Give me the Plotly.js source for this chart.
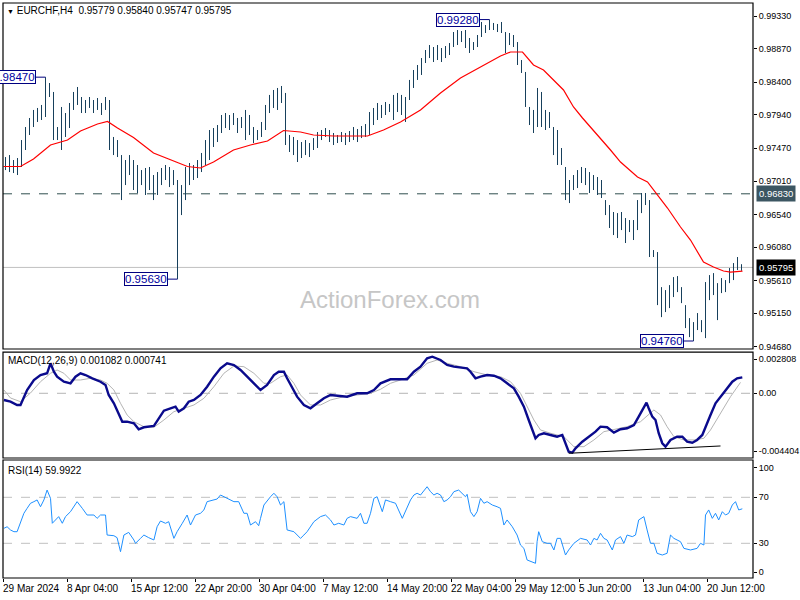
<!DOCTYPE html>
<html>
<head>
<meta charset="utf-8">
<script src="https://cdn.plot.ly/plotly-3.0.1.min.js"></script>
<style>html,body{margin:0;padding:0;background:#fff;}#chart{width:800px;height:600px;}</style>
</head>
<body>
<div id="chart"></div>
<script>
// ---- data (each bar = one plotted bar) ----
const hi = [0.97347,0.97375,0.97305,0.97333,0.97586,0.97769,0.97896,0.98009,0.98037,0.98079,
 0.98470,0.98388,0.98262,0.97769,0.98051,0.97966,0.98107,0.98262,0.98332,0.98191,
 0.98149,0.98191,0.98149,0.98177,0.98107,0.98191,0.98149,0.97629,0.97586,0.97375,
 0.97305,0.97375,0.97305,0.97235,0.97164,0.97193,0.97207,0.97094,0.97136,0.97193,
 0.97235,0.97207,0.97164,0.97024,0.96953,0.97207,0.97263,0.97235,0.97305,0.97404,
 0.97586,0.97727,0.97755,0.97797,0.97938,0.97966,0.97938,0.97966,0.97896,0.97910,
 0.98009,0.97938,0.97769,0.97727,0.97840,0.98079,0.98220,0.98290,0.98318,0.98346,
 0.98248,0.97657,0.97629,0.97586,0.97558,0.97586,0.97544,0.97614,0.97699,0.97727,
 0.97755,0.97727,0.97685,0.97657,0.97699,0.97685,0.97713,0.97769,0.97741,0.97783,
 0.97811,0.97980,0.98037,0.98107,0.98079,0.98121,0.98093,0.98220,0.98248,0.98220,
 0.98191,0.98431,0.98571,0.98641,0.98739,0.98852,0.98922,0.98894,0.98922,0.98880,
 0.98908,0.98950,0.99105,0.99133,0.99119,0.99133,0.99021,0.98964,0.99063,0.99246,
 0.99203,0.99280,0.99232,0.99218,0.99246,0.99105,0.99091,0.99063,0.98964,0.98711,
 0.98543,0.98051,0.98009,0.98318,0.98262,0.98009,0.97980,0.97769,0.97727,0.97474,
 0.97207,0.97024,0.97094,0.97164,0.97207,0.97193,0.97136,0.97094,0.97066,0.97024,
 0.96742,0.96672,0.96574,0.96559,0.96574,0.96489,0.96461,0.96461,0.96742,0.96841,
 0.96841,0.96742,0.96039,0.96011,0.95518,0.95476,0.95546,0.95659,0.95673,0.95518,
 0.95265,0.95082,0.95026,0.95153,0.95054,0.95589,0.95687,0.95715,0.95574,0.95645,
 0.95617,0.95786,0.95856,0.95941,0.95840];
const lo = [0.97164,0.97136,0.97122,0.97094,0.97207,0.97446,0.97657,0.97769,0.97840,0.97868,
 0.97910,0.98191,0.97586,0.97586,0.97446,0.97629,0.97755,0.98009,0.98079,0.97966,
 0.97966,0.98037,0.97966,0.98009,0.97938,0.98009,0.97446,0.97375,0.97347,0.96742,
 0.96953,0.97094,0.96883,0.96841,0.96953,0.96813,0.96883,0.96742,0.96813,0.96953,
 0.97024,0.96925,0.96953,0.95630,0.96531,0.96742,0.96953,0.97024,0.97052,0.97136,
 0.97235,0.97305,0.97488,0.97558,0.97685,0.97755,0.97727,0.97797,0.97685,0.97755,
 0.97586,0.97657,0.97544,0.97586,0.97629,0.97727,0.97966,0.98037,0.98009,0.98107,
 0.97516,0.97418,0.97375,0.97277,0.97333,0.97375,0.97347,0.97446,0.97474,0.97586,
 0.97629,0.97558,0.97516,0.97544,0.97558,0.97516,0.97558,0.97586,0.97558,0.97614,
 0.97629,0.97657,0.97797,0.97868,0.97896,0.97938,0.97980,0.97868,0.97980,0.97938,
 0.97840,0.98149,0.98318,0.98431,0.98501,0.98669,0.98739,0.98683,0.98711,0.98683,
 0.98739,0.98782,0.98894,0.98922,0.98964,0.98880,0.98810,0.98852,0.98894,0.99035,
 0.99091,0.99133,0.99133,0.99105,0.99091,0.98810,0.98922,0.98894,0.98641,0.98529,
 0.98051,0.97797,0.97685,0.97769,0.97769,0.97727,0.97755,0.97375,0.97235,0.97235,
 0.96742,0.96700,0.96883,0.96911,0.96982,0.96953,0.96841,0.96883,0.96813,0.96771,
 0.96531,0.96349,0.96250,0.96208,0.96320,0.96138,0.96292,0.96180,0.96320,0.96559,
 0.96672,0.95941,0.95941,0.95265,0.95096,0.95167,0.95223,0.95378,0.95448,0.95293,
 0.94942,0.94815,0.94760,0.94914,0.94885,0.94801,0.95335,0.95406,0.95054,0.95434,
 0.95448,0.95574,0.95617,0.95758,0.95747];

const maIdx = [-0.5,3.75,7,11.25,15.5,18.75,23,25.5,28,32,37,42,45.5,48.75,52,57,61.25,65.5,69.5,73.75,77,82,90.5,94.5,98.75,103.75,108.75,113.75,118.75,123.75,126.25,129.25,132,134.5,139.5,142,144.25,148.75,151.25,153.75,158,160.5,163,165.5,168.75,171.25,174.5,177,179.5,181.25,184.25];
const maVal = [0.97214,0.97214,0.97319,0.97516,0.97586,0.97713,0.97811,0.97847,0.97755,0.97622,0.97404,0.97291,0.97214,0.97193,0.97277,0.97446,0.97516,0.97572,0.97720,0.97699,0.97657,0.97643,0.97643,0.97727,0.97840,0.98009,0.98248,0.98459,0.98613,0.98768,0.98824,0.98824,0.98641,0.98571,0.98290,0.98051,0.97896,0.97614,0.97446,0.97277,0.97066,0.96996,0.96813,0.96630,0.96363,0.96180,0.95870,0.95800,0.95744,0.95729,0.95744];

const macdIdx = [-0.4,1.25,2.9,3.75,5.4,7.1,8.75,10.4,11.25,12.1,12.9,14.6,16.25,17.5,18.75,20,21.7,23.75,25,25.8,27.1,27.9,29.2,30.4,32.1,33.3,34.6,37.1,38.3,39.6,41.25,42.5,43.3,44.6,45.8,47.1,48.75,50.4,52.1,53.75,55.4,57.1,58.75,60.4,62.1,63.75,65.4,67.1,68.3,69.6,70.4,71.7,72.9,74.6,76.25,77.9,79.6,81.25,82.9,85.4,87.9,90.4,92.1,93.75,96.25,98.75,100.4,102.1,103.75,105.4,106.7,108.75,110.4,112.1,115.4,116.25,117.5,118.75,120.4,122.1,123.75,125.4,127.1,128.3,129.6,130.8,131.7,132.5,133.3,134.6,136.25,137.9,139.2,140,140.8,141.7,142.5,144.2,145.8,147.5,148.75,150.4,152.1,153.75,155.4,157.1,158.3,159.6,160.25,160.8,161.7,162.5,163.3,164.2,165,166.25,167.9,169.2,170.4,171.7,172.9,174.2,175,176.25,177.5,179.2,180.4,181.7,182.9,184.2];
const macdVal = [-0.000456,-0.000571,-0.000796,-0.000796,0.000225,0.000905,0.001245,0.001361,0.002041,0.001470,0.001129,0.000789,0.000680,0.001129,0.001361,0.001245,0.001021,0.000789,0.000565,-0.000116,-0.000680,-0.001136,-0.001932,-0.001932,-0.002041,-0.002449,-0.002313,-0.002225,-0.001701,-0.001184,-0.001021,-0.000912,-0.001252,-0.001021,-0.000571,-0.000456,-0.000116,0.000449,0.001129,0.001701,0.002041,0.001925,0.001585,0.001129,0.000680,0.000225,0.000565,0.001245,0.001470,0.001470,0.001021,0.000340,-0.000231,-0.000796,-0.001021,-0.000680,-0.000340,-0.000116,-0.000163,-0.000231,0,0,0.000225,0.000680,0.000953,0.000953,0.000953,0.001470,0.001810,0.002381,0.002490,0.002266,0.001925,0.001810,0.001701,0.001470,0.001021,0.001129,0.001245,0.001197,0.001021,0.000680,0.000340,-0.000231,-0.000912,-0.001817,-0.002497,-0.003062,-0.002837,-0.002721,-0.002837,-0.002953,-0.002837,-0.003402,-0.003973,-0.004041,-0.003742,-0.003293,-0.002953,-0.002613,-0.002272,-0.002313,-0.002681,-0.002449,-0.002381,-0.002157,-0.001592,-0.000912,-0.000640,-0.001021,-0.001592,-0.001817,-0.002721,-0.003402,-0.003633,-0.003177,-0.002953,-0.002953,-0.003293,-0.003361,-0.003177,-0.002837,-0.002272,-0.001476,-0.000680,-0.000116,0.000340,0.000789,0.001021,0.001082];

const sigIdx = [-0.4,1.25,3.75,6.25,8.75,11.25,12.9,14.6,16.25,18.75,21.25,23.75,25.4,27.1,28.75,30.4,32.1,34.6,37.1,39.6,42.1,44.6,47.1,49.6,52.1,54.6,57.1,59.6,62.1,64.6,66.25,68.75,70.4,72.1,73.75,76.25,78.75,81.25,84.6,87.9,91.25,93.75,96.25,98.75,102.1,105.4,107.9,110.4,113.75,117.1,120.4,123.75,126.25,128.75,130.4,132.1,133.75,136.25,139.6,142.1,144.6,147.1,149.6,152.1,155.4,158.75,162.1,163.75,165.4,167.1,169.6,172.1,174.6,176.25,178.75,181.25,183.75];
const sigVal = [0.000225,-0.000320,-0.000571,0.000020,0.000789,0.001361,0.001585,0.001361,0.000905,0.000905,0.001021,0.000905,0.000680,0.000225,-0.000680,-0.001476,-0.001932,-0.002272,-0.002313,-0.001817,-0.001252,-0.001021,-0.000796,-0.000340,0.000449,0.001361,0.001857,0.001810,0.001361,0.000680,0.000680,0.001129,0.001245,0.000680,-0.000116,-0.000796,-0.000796,-0.000456,-0.000231,-0.000116,0,0.000272,0.000680,0.000905,0.001245,0.002041,0.002266,0.002041,0.001810,0.001470,0.001245,0.001129,0.000789,0,-0.000912,-0.001817,-0.002497,-0.002721,-0.002953,-0.003633,-0.003633,-0.003177,-0.002613,-0.002449,-0.002272,-0.001932,-0.001136,-0.001476,-0.002272,-0.002953,-0.003177,-0.003177,-0.003062,-0.002497,-0.001361,-0.000231,0.000741];

const divIdx = [140.8, 178.75];
const divVal = [-0.004082, -0.003586];

const rsiIdx = [-0.4,0.4,1.25,2.1,2.9,3.75,4.6,5.4,6.25,7.1,7.9,8.75,9.6,10.4,11.25,11.7,12.5,13.3,14.2,15,16.25,17.9,19.2,20.4,22.1,22.9,23.75,25,25.4,27.1,27.9,28.75,29.6,30.8,32.1,32.5,33.75,34.6,35.8,37.1,37.9,38.75,40,40.8,42.1,42.9,44.2,45.4,46.25,47.5,48.75,49.6,50.4,52.1,52.9,53.75,55.4,57.1,58.3,59.6,60.4,61.25,62.5,63.3,63.75,64.6,66.25,67.1,67.9,68.75,69.6,70.4,72.1,72.9,73.75,74.6,75.4,77.1,78.75,80,81.25,82.1,83.3,84.6,85.4,86.25,87.9,88.75,89.6,90.4,91.25,92.1,92.9,94.2,95,96.25,97.5,
 99.2,100.4,101.25,102.1,102.9,103.75,104.6,105.4,106.25,107.1,107.9,108.75,109.6,110.4,111.25,112.1,113.3,114.2,115,115.4,116.25,117.1,117.9,118.75,119.6,120.4,121.7,122.9,123.75,124.6,125.4,126.7,127.9,128.75,129.6,130.4,131.7,132.5,132.9,133.3,134.2,135.4,136.25,137.1,137.9,138.75,140,140.8,142.1,143.75,145.4,146.25,147.1,147.9,148.75,149.6,150.4,151.7,152.5,153.75,154.6,155.4,156.7,157.5,158.3,159.6,160.4,161.25,162.1,162.9,164.2,165.4,166.25,167.1,167.9,168.75,169.6,171.25,172.9,173.75,174.6,175,175.8,176.7,177.5,178.3,179.2,180,180.8,181.7,182.5,182.9,183.3,184.2];
const rsiVal = [43.0,44.4,41.6,40.1,40.1,47.4,56.1,60.4,64.8,66.2,67.7,61.8,67.7,76.3,69.1,47.4,50.3,53.2,47.4,53.2,57.5,66.2,60.4,54.6,54.6,51.7,54.6,54.6,37.2,36.6,34.9,22.7,37.2,39.5,32.9,30.0,34.3,37.2,34.9,32.9,44.4,49.4,47.4,48.8,34.3,40.1,47.4,54.6,45.9,54.6,56.1,59.0,66.2,67.7,68.5,72.0,69.1,66.2,66.2,56.1,56.1,45.9,48.8,45.3,51.7,63.3,70.5,73.5,70.5,63.3,66.2,41.6,40.1,37.2,34.3,37.2,40.1,48.8,53.2,54.6,50.3,45.9,47.4,45.9,51.7,53.2,51.7,56.1,47.4,47.4,56.1,69.1,70.5,57.5,67.7,66.2,64.8,
 51.7,60.4,67.7,72.0,73.5,72.0,76.3,79.2,74.9,72.0,73.5,72.0,66.2,67.7,70.5,74.9,76.3,73.5,70.5,72.6,57.5,53.2,57.5,69.1,64.8,66.2,63.3,61.8,60.4,45.9,50.3,44.4,37.2,28.5,25.6,15.5,13.4,12.6,31.4,40.1,31.4,30.0,30.0,24.2,34.3,34.3,19.8,24.2,30.0,34.3,32.9,28.5,34.3,32.9,38.7,34.3,32.9,24.2,32.9,35.8,30.0,37.2,35.8,37.2,50.3,53.2,41.6,30.0,30.0,21.3,19.8,21.3,37.2,34.3,32.9,31.4,25.6,24.2,25.6,30.0,28.5,54.6,59.0,51.7,56.1,50.3,57.5,54.6,56.1,63.3,66.2,61.8,59.0,60.0];

const dateLabels = ['29 Mar 2024','8 Apr 04:00','15 Apr 12:00','22 Apr 20:00','30 Apr 04:00','7 May 12:00','14 May 20:00','22 May 04:00','29 May 12:00','5 Jun 20:00','13 Jun 04:00','20 Jun 12:00'];
const priceTicks = [0.99330,0.98870,0.98400,0.97940,0.97470,0.97010,0.96540,0.96080,0.95610,0.95150,0.94680];
const macdTickLabels = ['0.002808','0.00','-0.004404'];
const rsiTickLabels = ['100','70','30','0'];
const rsiLevels = [70, 30];
const headerText = 'EURCHF,H4  0.95779 0.95840 0.95747 0.95795';
const macdText = 'MACD(12,26,9) 0.001082 0.000741';
const rsiText = 'RSI(14) 59.9922';
const lastPrice = 0.95795;
const levelLine = 0.96830;
const markedBars = [10, 43, 121, 172];    // bars with price labels
const markedIsHigh = [true, false, true, false];

// ---- build traces ----
const bx = [], by = [];
for (let i = 0; i < hi.length; i++) { bx.push(i, i, null); by.push(lo[i], hi[i], null); }
const barsPerLabel = 16;
const tickPos = dateLabels.map((_, k) => k * barsPerLabel - 0.625);

const FONT = 'Liberation Sans, Arial, sans-serif';
const traces = [
  {type:'scatter', mode:'lines', x:bx, y:by, xaxis:'x', yaxis:'y', line:{color:'#17405c', width:1}, hoverinfo:'skip'},
  {type:'scatter', mode:'lines', x:maIdx, y:maVal, xaxis:'x', yaxis:'y', line:{color:'#ff0000', width:1.2}, hoverinfo:'skip'},
  {type:'scatter', mode:'lines', x:sigIdx, y:sigVal, xaxis:'x', yaxis:'y2', line:{color:'#b4b4b4', width:1}, hoverinfo:'skip'},
  {type:'scatter', mode:'lines', x:macdIdx, y:macdVal, xaxis:'x', yaxis:'y2', line:{color:'#0a0a8c', width:2.4}, hoverinfo:'skip'},
  {type:'scatter', mode:'lines', x:divIdx, y:divVal, xaxis:'x', yaxis:'y2', line:{color:'#000000', width:1}, hoverinfo:'skip'},
  {type:'scatter', mode:'lines', x:rsiIdx, y:rsiVal, xaxis:'x', yaxis:'y3', line:{color:'#1e90ff', width:1}, hoverinfo:'skip'}
];

const shapes = [
  {type:'line', xref:'paper', x0:0, x1:1, yref:'y', y0:lastPrice, y1:lastPrice, line:{color:'#c0c0c0', width:1}, layer:'below'},
  {type:'line', xref:'paper', x0:0, x1:1, yref:'y', y0:levelLine, y1:levelLine, line:{color:'#2f4f4f', width:1, dash:'dash'}, layer:'below'},
  {type:'line', xref:'paper', x0:0, x1:1, yref:'y2', y0:0, y1:0, line:{color:'#b4b4b4', width:1, dash:'dash'}, layer:'below'},
];
rsiLevels.forEach(v => shapes.push({type:'line', xref:'paper', x0:0, x1:1, yref:'y3', y0:v, y1:v, line:{color:'#c0c0c0', width:1, dash:'dash'}, layer:'below'}));
['y domain','y2 domain','y3 domain'].forEach(r => shapes.push({type:'rect', xref:'paper', x0:0, x1:1, yref:r, y0:0, y1:1, line:{color:'#000', width:1.2}, fillcolor:'rgba(0,0,0,0)'}));

const annotations = [];
markedBars.forEach((b, k) => {
  const v = markedIsHigh[k] ? hi[b] : lo[b];
  shapes.push({type:'line', xref:'x', x0:b - 2.5, x1:b, yref:'y', y0:v, y1:v, line:{color:'#000080', width:1}});
  annotations.push({xref:'x', yref:'y', x:b - 2.5, y:v, xanchor:'right', yanchor:'middle', showarrow:false,
    text:v.toFixed(5), font:{family:FONT, size:11.5, color:'#0000a0'}, bgcolor:'#ffffff', bordercolor:'#000080', borderwidth:1, borderpad:0});
});
dateLabels.forEach((t, k) => annotations.push({xref:'x', yref:'paper', x:tickPos[k], y:0, xanchor:'left', yanchor:'top', yshift:-3, xshift:-2,
  showarrow:false, text:t, font:{family:FONT, size:10, color:'#000'}}));
annotations.push({xref:'paper', yref:'paper', x:0.002, y:0.9878, xanchor:'left', yanchor:'middle', showarrow:false,
  text:'<span style="font-size:7px">▼</span> ' + headerText, font:{family:FONT, size:10, color:'#000'}});
annotations.push({xref:'paper', yref:'paper', x:0.004, y:0.3774, xanchor:'left', yanchor:'middle', showarrow:false, text:macdText, font:{family:FONT, size:10, color:'#000'}});
annotations.push({xref:'paper', yref:'paper', x:0.004, y:0.1878, xanchor:'left', yanchor:'middle', showarrow:false, text:rsiText, font:{family:FONT, size:10, color:'#000'}});
annotations.push({xref:'paper', yref:'paper', x:0.516, y:0.4835, xanchor:'center', yanchor:'middle', showarrow:false, text:'ActionForex.com', font:{family:FONT, size:24, color:'#c6c6c6'}});
annotations.push({xref:'paper', yref:'y', x:1, y:levelLine, xanchor:'left', yanchor:'middle', xshift:3, showarrow:false,
  text:levelLine.toFixed(5), font:{family:FONT, size:9.5, color:'#ffffff'}, bgcolor:'#3c5662', borderpad:2});
annotations.push({xref:'paper', yref:'y', x:1, y:lastPrice, xanchor:'left', yanchor:'middle', xshift:3, showarrow:false,
  text:lastPrice.toFixed(5), font:{family:FONT, size:9.5, color:'#ffffff'}, bgcolor:'#000000', borderpad:2});

const axCommon = {side:'right', anchor:'x', showgrid:false, zeroline:false, ticks:'outside', ticklen:3, tickcolor:'#000',
  tickfont:{family:FONT, size:9, color:'#000'}, tickmode:'array', fixedrange:true};
const layout = {
  width:800, height:600,
  margin:{l:3, r:47, t:3, b:22, pad:0},
  paper_bgcolor:'#ffffff', plot_bgcolor:'#ffffff',
  showlegend:false,
  font:{family:FONT, size:10, color:'#000'},
  xaxis:{domain:[0,1], range:[-0.625,186.875], anchor:'y3', showgrid:false, zeroline:false, showticklabels:false,
    tickmode:'array', tickvals:tickPos, ticks:'outside', ticklen:3, tickcolor:'#000', fixedrange:true},
  yaxis:Object.assign({}, axCommon, {domain:[0.3983,1], range:[0.94648,0.99513], tickvals:priceTicks, ticktext:priceTicks.map(v=>v.toFixed(5))}),
  yaxis2:Object.assign({}, axCommon, {domain:[0.2087,0.3930], range:[-0.004404,0.002808], tickvals:[0.002332,0,-0.003928], ticktext:macdTickLabels}),
  yaxis3:Object.assign({}, axCommon, {domain:[0,0.2052], range:[-0.17,102.43], tickvals:[95.7,70,30,4.8], ticktext:rsiTickLabels}),
  shapes:shapes,
  annotations:annotations
};
Plotly.newPlot('chart', traces, layout, {staticPlot:true, displayModeBar:false});
</script>
</body>
</html>
